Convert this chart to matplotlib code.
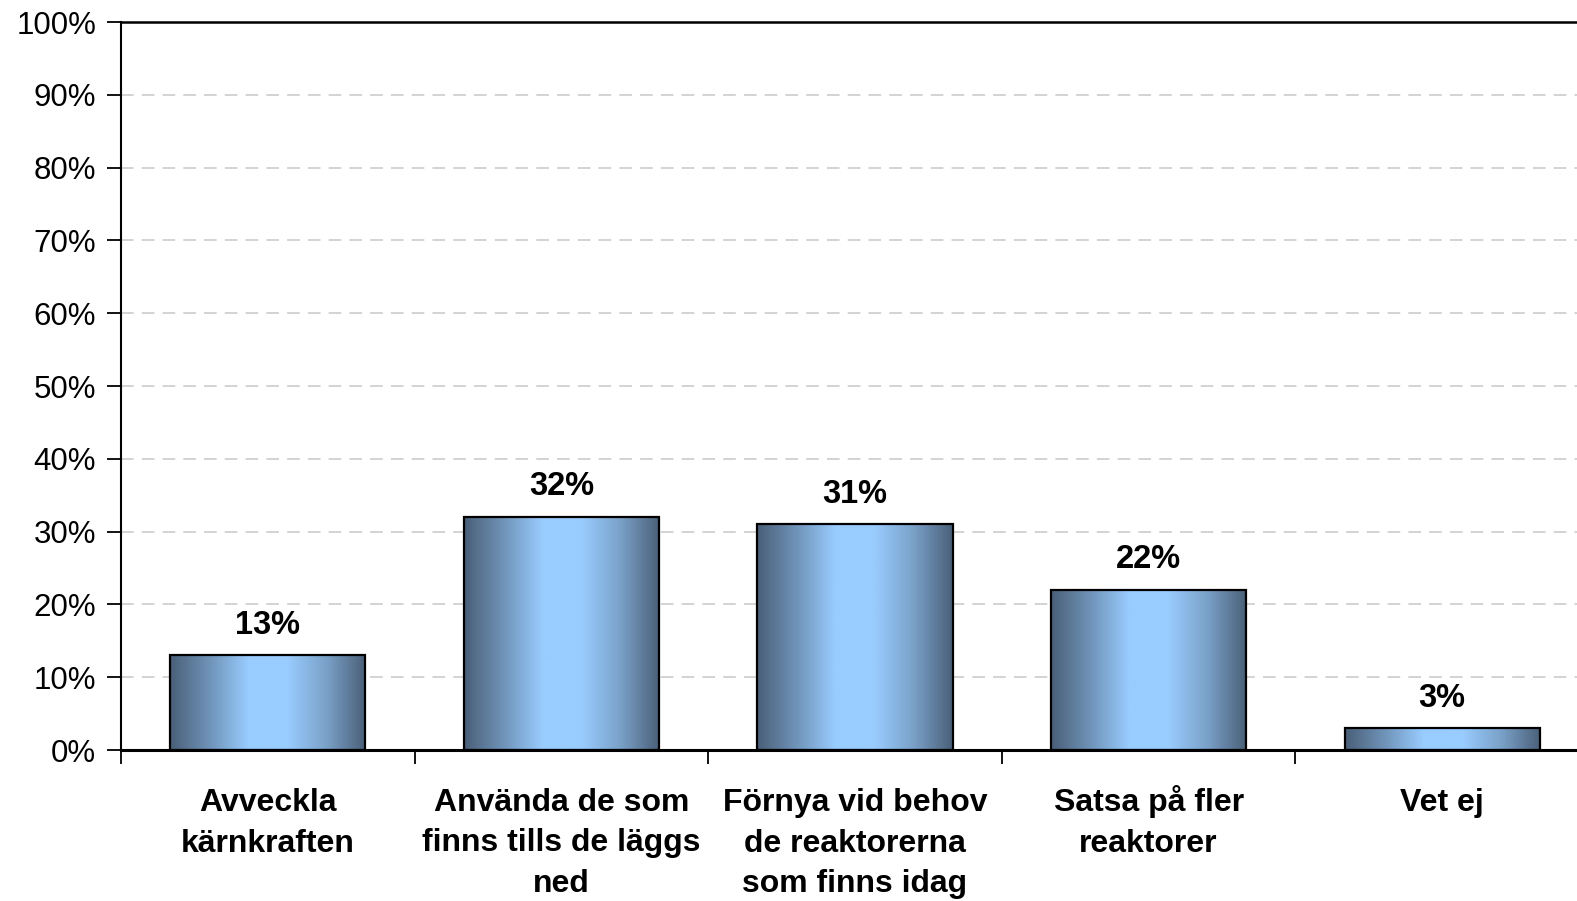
import numpy as np
import matplotlib
matplotlib.use("Agg")
import matplotlib.pyplot as plt
from matplotlib.colors import LinearSegmentedColormap
from matplotlib.patches import Rectangle

plt.rcParams['font.family'] = ['Liberation Sans', 'DejaVu Sans']

categories = [
    "Avveckla\nkärnkraften",
    "Använda de som\nfinns tills de läggs\nned",
    "Förnya vid behov\nde reaktorerna\nsom finns idag",
    "Satsa på fler\nreaktorer",
    "Vet ej",
]
values = [13, 32, 31, 22, 3]
yticks = list(range(0, 101, 10))
ytick_labels = [f"{v}%" for v in yticks]

bar_cmap = LinearSegmentedColormap.from_list(
    "bar", ["#4a5f78", "#6f93b8", "#99ccff", "#99ccff", "#7aa1c8", "#4a5f78"])

fig = plt.figure(figsize=(15.77, 9.01), dpi=100)
ax = fig.add_axes([121 / 1577, 1 - 750 / 901, 1468 / 1577, (750 - 22) / 901])

# dashed gridlines
for y in yticks[1:-1]:
    ax.axhline(y, color="#d0d0d0", lw=1.3, ls=(0, (7, 4.5)), zorder=0)

grad = np.linspace(0, 1, 256).reshape(1, -1)
width = 0.665
for i, v in enumerate(values):
    x0 = i + 0.5 - width / 2
    ax.imshow(grad, cmap=bar_cmap, aspect="auto", extent=(x0, x0 + width, 0, v),
              zorder=2, interpolation="bicubic")
    ax.add_patch(Rectangle((x0, 0), width, v, fill=False, ec="black", lw=1.6, zorder=3))
    ax.text(i + 0.5, v + 2.0, f"{v}%", ha="center", va="bottom",
            fontsize=23.5, fontweight="bold", zorder=4)

ax.set_xlim(0, len(categories))
ax.set_ylim(0, 100)

ax.set_yticks(yticks)
ax.set_yticklabels(ytick_labels, fontsize=22.5)
ax.set_xticks(range(0, len(categories) + 1))
ax.set_xticklabels([])

# category labels, one line at a time so the baselines line up
for i, lab in enumerate(categories):
    for k, line in enumerate(lab.split("\n")):
        ax.annotate(line, xy=(i + 0.5, 0), xycoords="data",
                    xytext=(0, -61 - 40.5 * k), textcoords="offset pixels",
                    ha="center", va="baseline", fontsize=23, fontweight="bold",
                    annotation_clip=False)

ax.tick_params(axis="x", which="major", length=10, width=1.3, direction="out")
ax.tick_params(axis="y", length=10, width=1.3, direction="out", pad=8)

ax.spines["right"].set_visible(False)
ax.spines["left"].set_linewidth(1.5)
ax.spines["top"].set_linewidth(1.8)
ax.spines["bottom"].set_linewidth(2.2)

fig.savefig("out.png", dpi=100)
